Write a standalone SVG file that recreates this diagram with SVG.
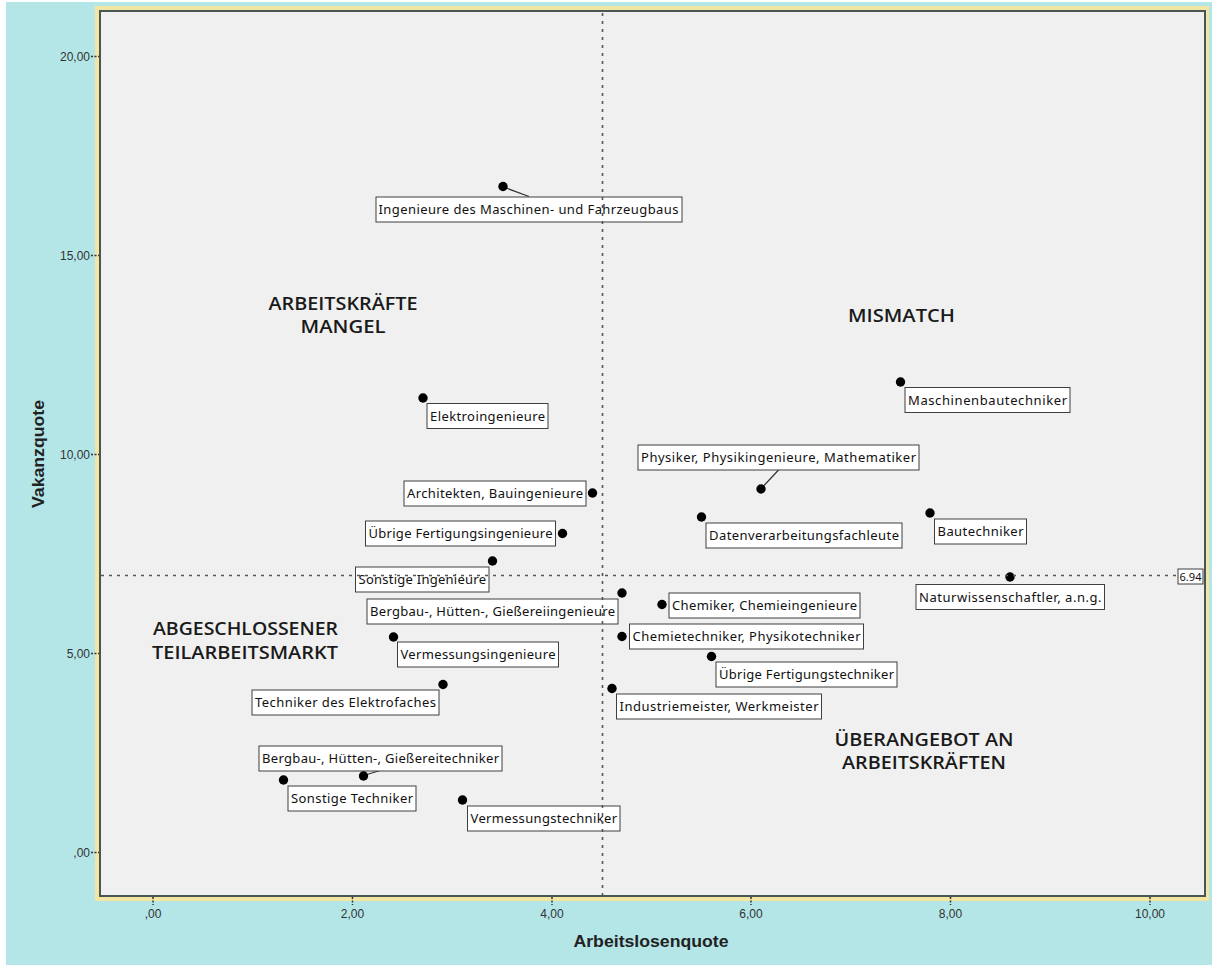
<svg xmlns="http://www.w3.org/2000/svg" width="1212" height="965" viewBox="0 0 1212 965">
<style>
.lbl rect{fill:#ffffff;stroke:#3f3f3f;stroke-width:1}
.lbl text{font-family:"Noto Sans","Open Sans",sans-serif;font-size:13px;fill:#111}
.dot{fill:#000}
.tick{stroke:#333;stroke-width:1.5;stroke-dasharray:2,1.5}
.tl{font-family:"Liberation Sans",Arial,sans-serif;font-size:12px;fill:#333}
.ax{font-family:"Liberation Sans",Arial,sans-serif;font-size:16px;font-weight:bold;fill:#222}
.reg{font-family:"Open Sans","Noto Sans",sans-serif;font-size:18px;font-weight:600;fill:#1a1a1a}
.ref{stroke:#555;stroke-width:1.6;stroke-dasharray:3,5;fill:none}
.lead{stroke:#333;stroke-width:1.2}
</style>
<rect x="0" y="0" width="1212" height="965" fill="#ffffff"/>
<rect x="6" y="2" width="1206" height="963" fill="#b4e6e8"/>
<rect x="95" y="6" width="1114" height="895" fill="#f3e5a2"/>
<rect x="100" y="11" width="1105" height="885" fill="#f0f0f0" stroke="#4a5656" stroke-width="2"/>

<g id="y-axis">
<line class="tick" x1="91" y1="56.5" x2="99" y2="56.5"/>
<line class="tick" x1="91" y1="255.5" x2="99" y2="255.5"/>
<line class="tick" x1="91" y1="454.5" x2="99" y2="454.5"/>
<line class="tick" x1="91" y1="653.5" x2="99" y2="653.5"/>
<line class="tick" x1="91" y1="852.5" x2="99" y2="852.5"/>
<text class="tl" x="90" y="61" text-anchor="end">20,00</text>
<text class="tl" x="90" y="260" text-anchor="end">15,00</text>
<text class="tl" x="90" y="459" text-anchor="end">10,00</text>
<text class="tl" x="90" y="658" text-anchor="end">5,00</text>
<text class="tl" x="90" y="857" text-anchor="end">,00</text>
<text class="ax" transform="translate(44,454) rotate(-90)" text-anchor="middle" textLength="108" lengthAdjust="spacingAndGlyphs">Vakanzquote</text>
</g>
<g id="x-axis">
<line class="tick" x1="153" y1="897" x2="153" y2="905"/>
<line class="tick" x1="352.5" y1="897" x2="352.5" y2="905"/>
<line class="tick" x1="552" y1="897" x2="552" y2="905"/>
<line class="tick" x1="751" y1="897" x2="751" y2="905"/>
<line class="tick" x1="950.5" y1="897" x2="950.5" y2="905"/>
<line class="tick" x1="1150" y1="897" x2="1150" y2="905"/>
<text class="tl" x="153" y="918" text-anchor="middle">,00</text>
<text class="tl" x="352.5" y="918" text-anchor="middle">2,00</text>
<text class="tl" x="552" y="918" text-anchor="middle">4,00</text>
<text class="tl" x="751" y="918" text-anchor="middle">6,00</text>
<text class="tl" x="950.5" y="918" text-anchor="middle">8,00</text>
<text class="tl" x="1150" y="918" text-anchor="middle">10,00</text>
<text class="ax" x="651" y="947" text-anchor="middle" textLength="155" lengthAdjust="spacingAndGlyphs">Arbeitslosenquote</text>
</g>

<g id="regions">
<text class="reg" x="268.5" y="310" textLength="149" lengthAdjust="spacingAndGlyphs">ARBEITSKRÄFTE</text>
<text class="reg" x="300.5" y="332.5" textLength="85" lengthAdjust="spacingAndGlyphs">MANGEL</text>
<text class="reg" x="848" y="322" textLength="107" lengthAdjust="spacingAndGlyphs">MISMATCH</text>
<text class="reg" x="153" y="635" textLength="185" lengthAdjust="spacingAndGlyphs">ABGESCHLOSSENER</text>
<text class="reg" x="152" y="658.5" textLength="186" lengthAdjust="spacingAndGlyphs">TEILARBEITSMARKT</text>
<text class="reg" x="834.5" y="745.5" textLength="179" lengthAdjust="spacingAndGlyphs">ÜBERANGEBOT AN</text>
<text class="reg" x="842" y="768.5" textLength="164" lengthAdjust="spacingAndGlyphs">ARBEITSKRÄFTEN</text>
</g>

<g id="connectors">
<line class="lead" x1="506" y1="188" x2="529" y2="196.5"/>
<line class="lead" x1="367" y1="774.5" x2="380" y2="770.5"/>
<line class="lead" x1="763.5" y1="486" x2="779" y2="469.5"/>
</g>

<g id="n1" class="lbl"><rect x="376" y="197" width="306" height="25"/><text x="378.5" y="214" textLength="300" lengthAdjust="spacing">Ingenieure des Maschinen- und Fahrzeugbaus</text><circle class="dot" cx="503" cy="186.5" r="4.7"/></g>
<g id="n2" class="lbl"><rect x="427" y="403.5" width="121" height="25"/><text x="430" y="420.5" textLength="115" lengthAdjust="spacing">Elektroingenieure</text><circle class="dot" cx="423" cy="398" r="4.7"/></g>
<g id="n3" class="lbl"><rect x="404" y="481" width="182" height="25"/><text x="407" y="498" textLength="176" lengthAdjust="spacing">Architekten, Bauingenieure</text><circle class="dot" cx="592.5" cy="493" r="4.7"/></g>
<g id="n4" class="lbl"><rect x="365.5" y="521" width="190" height="25"/><text x="368.5" y="538" textLength="184" lengthAdjust="spacing">Übrige Fertigungsingenieure</text><circle class="dot" cx="562.5" cy="533.5" r="4.7"/></g>
<g id="n5" class="lbl"><rect x="355.5" y="567" width="133.5" height="25"/><text x="358.5" y="584" textLength="127.5" lengthAdjust="spacing">Sonstige Ingenieure</text><circle class="dot" cx="492.5" cy="561" r="4.7"/></g>
<g id="n6" class="lbl"><rect x="367" y="599" width="251" height="25"/><text x="370" y="616" textLength="245" lengthAdjust="spacing">Bergbau-, Hütten-, Gießereiingenieure</text><circle class="dot" cx="622" cy="593" r="4.7"/></g>
<g id="n7" class="lbl"><rect x="397.5" y="642" width="161" height="25"/><text x="400.5" y="659" textLength="155" lengthAdjust="spacing">Vermessungsingenieure</text><circle class="dot" cx="393.5" cy="637" r="4.7"/></g>
<g id="n8" class="lbl"><rect x="669" y="593" width="191" height="25"/><text x="672" y="610" textLength="185" lengthAdjust="spacing">Chemiker, Chemieingenieure</text><circle class="dot" cx="662" cy="604.5" r="4.7"/></g>
<g id="n9" class="lbl"><rect x="629.5" y="624" width="234" height="25"/><text x="632.5" y="641" textLength="228" lengthAdjust="spacing">Chemietechniker, Physikotechniker</text><circle class="dot" cx="622" cy="636.5" r="4.7"/></g>
<g id="n10" class="lbl"><rect x="716" y="662" width="181" height="25"/><text x="719" y="679" textLength="175" lengthAdjust="spacing">Übrige Fertigungstechniker</text><circle class="dot" cx="711.5" cy="656.5" r="4.7"/></g>
<g id="n11" class="lbl"><rect x="616.5" y="694" width="205" height="25"/><text x="619.5" y="711" textLength="199" lengthAdjust="spacing">Industriemeister, Werkmeister</text><circle class="dot" cx="612" cy="688.5" r="4.7"/></g>
<g id="n12" class="lbl"><rect x="252" y="690" width="187" height="25"/><text x="255" y="707" textLength="181" lengthAdjust="spacing">Techniker des Elektrofaches</text><circle class="dot" cx="443" cy="684.5" r="4.7"/></g>
<g id="n13" class="lbl"><rect x="259" y="746" width="243" height="25"/><text x="262" y="763" textLength="237" lengthAdjust="spacing">Bergbau-, Hütten-, Gießereitechniker</text><circle class="dot" cx="363.5" cy="776" r="4.7"/></g>
<g id="n14" class="lbl"><rect x="288" y="786" width="128" height="25"/><text x="291" y="803" textLength="122" lengthAdjust="spacing">Sonstige Techniker</text><circle class="dot" cx="283.5" cy="780" r="4.7"/></g>
<g id="n15" class="lbl"><rect x="467.5" y="806" width="152.5" height="25"/><text x="470.5" y="823" textLength="146.5" lengthAdjust="spacing">Vermessungstechniker</text><circle class="dot" cx="462.5" cy="800" r="4.7"/></g>
<g id="n16" class="lbl"><rect x="905" y="387.5" width="165" height="25"/><text x="908" y="404.5" textLength="159" lengthAdjust="spacing">Maschinenbautechniker</text><circle class="dot" cx="900.5" cy="382" r="4.7"/></g>
<g id="n17" class="lbl"><rect x="638" y="445" width="281" height="25"/><text x="641" y="462" textLength="275" lengthAdjust="spacing">Physiker, Physikingenieure, Mathematiker</text><circle class="dot" cx="761" cy="489" r="4.7"/></g>
<g id="n18" class="lbl"><rect x="706" y="523" width="196" height="25"/><text x="709" y="540" textLength="190" lengthAdjust="spacing">Datenverarbeitungsfachleute</text><circle class="dot" cx="701.5" cy="517" r="4.7"/></g>
<g id="n19" class="lbl"><rect x="934.5" y="519" width="92" height="25"/><text x="937.5" y="536" textLength="86" lengthAdjust="spacing">Bautechniker</text><circle class="dot" cx="930" cy="513" r="4.7"/></g>
<g id="n20" class="lbl"><rect x="916" y="584.5" width="188.5" height="25"/><text x="919" y="601.5" textLength="182.5" lengthAdjust="spacing">Naturwissenschaftler, a.n.g.</text><circle class="dot" cx="1010" cy="577" r="4.7"/></g>

<g id="reference-lines">
<line class="ref" x1="602.5" y1="13" x2="602.5" y2="895"/>
<line class="ref" x1="101" y1="575.5" x2="1178" y2="575.5"/>
</g>
<g id="ref-value" class="lbl"><rect x="1178" y="569" width="25" height="15"/><text x="1179.5" y="580.5" style="font-size:11px" textLength="22" lengthAdjust="spacingAndGlyphs">6.94</text></g>
</svg>
